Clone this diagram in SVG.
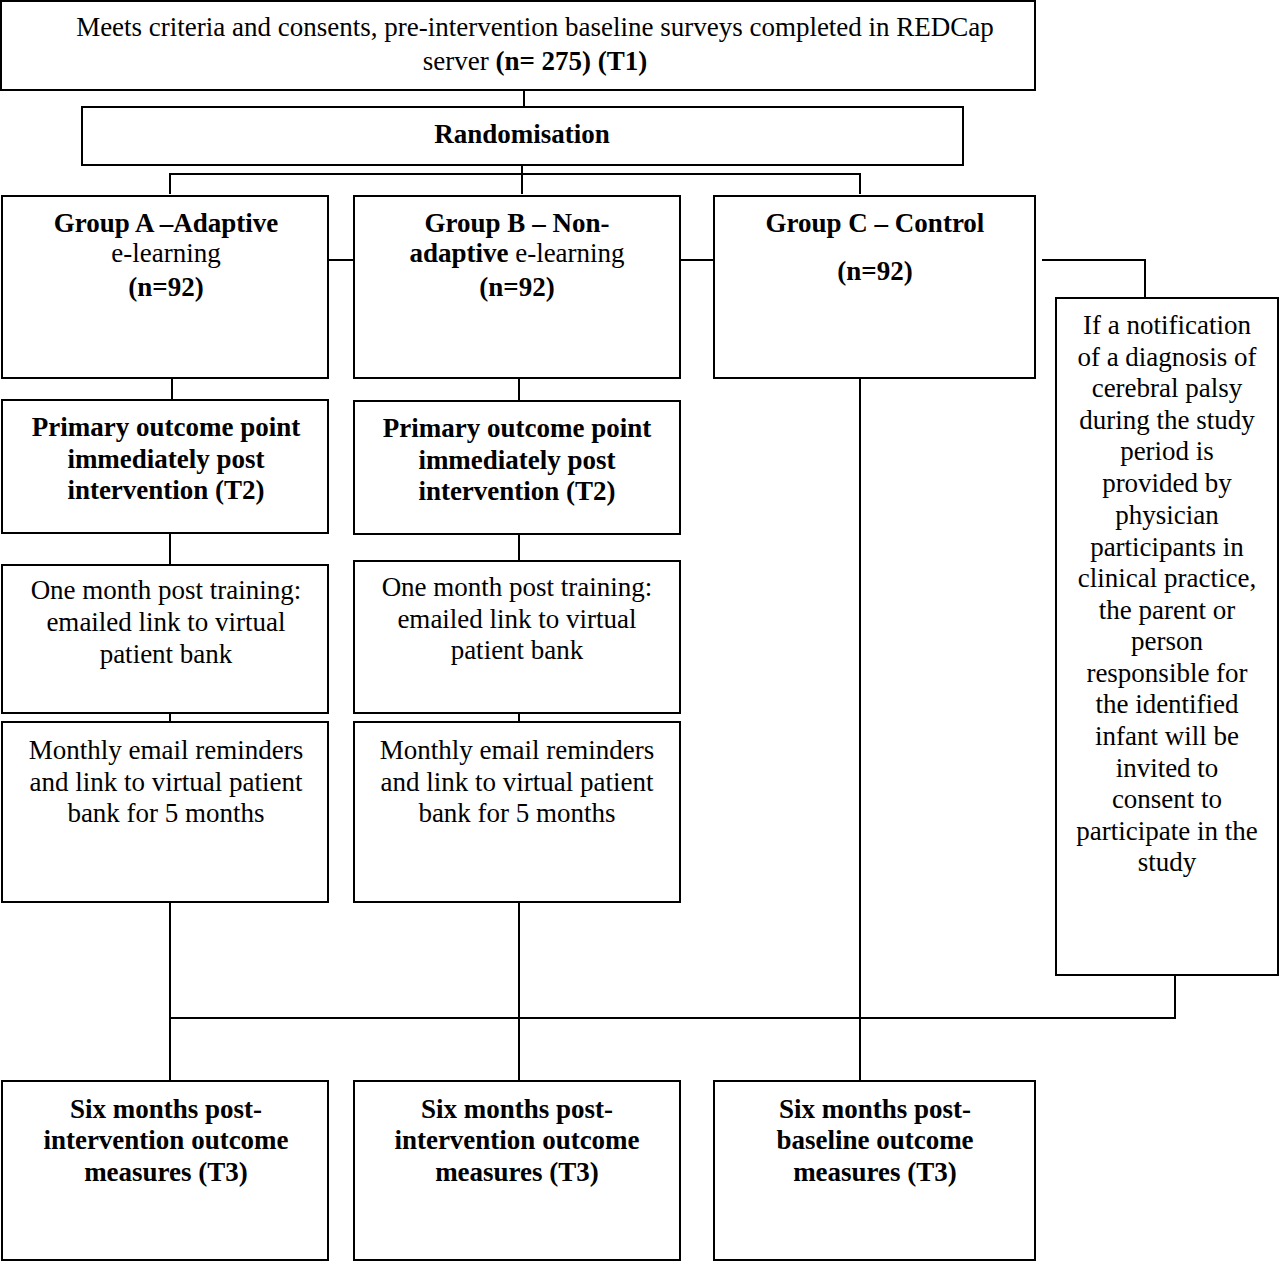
<svg xmlns="http://www.w3.org/2000/svg" width="1280" height="1263" viewBox="0 0 1280 1263">
<style>
.box{fill:#fff;stroke:#000;stroke-width:2}
.ln{stroke:#000;stroke-width:2;fill:none}
text{font-family:"Liberation Serif","Times New Roman",serif;font-size:27px;fill:#000;text-anchor:middle}
.b{font-weight:bold}
</style>
<rect width="1280" height="1263" fill="#fff"/>
<g id="connectors">
<path class="ln" d="M524 90V107"/>
<path class="ln" d="M170 194V174H860V194M522 166V194"/>
<path class="ln" d="M328 260H354M680 260H714"/>
<path class="ln" d="M1042 260H1145V298"/>
<path class="ln" d="M172 378V400M519 378V401"/>
<path class="ln" d="M170 533V565M519 534V561"/>
<path class="ln" d="M170 713V722M519 713V722"/>
<path class="ln" d="M170 902V1080M519 902V1080M860 378V1080"/>
<path class="ln" d="M170 1018H1176M1175 975V1018"/>
</g>
<g id="n_top"><rect class="box" x="1" y="1" width="1034" height="89"/>
<text x="535" y="36">Meets criteria and consents, pre-intervention baseline surveys completed in REDCap</text>
<text x="535" y="70">server <tspan class="b">(n= 275) (T1)</tspan></text></g>
<g id="n_rand"><rect class="box" x="82" y="107" width="881" height="58"/>
<text class="b" x="522" y="143">Randomisation</text></g>
<g id="n_groupA"><rect class="box" x="2" y="196" width="326" height="182"/>
<text class="b" x="166" y="232">Group A –Adaptive</text>
<text x="166" y="262">e-learning</text>
<text class="b" x="166" y="296">(n=92)</text></g>
<g id="n_groupB"><rect class="box" x="354" y="196" width="326" height="182"/>
<text class="b" x="517" y="232">Group B – Non-</text>
<text x="517" y="262"><tspan class="b">adaptive</tspan> e-learning</text>
<text class="b" x="517" y="296">(n=92)</text></g>
<g id="n_groupC"><rect class="box" x="714" y="196" width="321" height="182"/>
<text class="b" x="875" y="232">Group C – Control</text>
<text class="b" x="875" y="280">(n=92)</text></g>
<g id="n_note"><rect class="box" x="1056" y="298" width="222" height="677"/>
<text x="1167" y="334">If a notification</text>
<text x="1167" y="366">of a diagnosis of</text>
<text x="1167" y="397">cerebral palsy</text>
<text x="1167" y="429">during the study</text>
<text x="1167" y="460">period is</text>
<text x="1167" y="492">provided by</text>
<text x="1167" y="524">physician</text>
<text x="1167" y="556">participants in</text>
<text x="1167" y="587">clinical practice,</text>
<text x="1167" y="619">the parent or</text>
<text x="1167" y="650">person</text>
<text x="1167" y="682">responsible for</text>
<text x="1167" y="713">the identified</text>
<text x="1167" y="745">infant will be</text>
<text x="1167" y="777">invited to</text>
<text x="1167" y="808">consent to</text>
<text x="1167" y="840">participate in the</text>
<text x="1167" y="871">study</text></g>
<g id="n_primA"><rect class="box" x="2" y="400" width="326" height="133"/>
<text class="b" x="166" y="436">Primary outcome point</text>
<text class="b" x="166" y="468">immediately post</text>
<text class="b" x="166" y="499">intervention (T2)</text></g>
<g id="n_primB"><rect class="box" x="354" y="401" width="326" height="133"/>
<text class="b" x="517" y="437">Primary outcome point</text>
<text class="b" x="517" y="469">immediately post</text>
<text class="b" x="517" y="500">intervention (T2)</text></g>
<g id="n_monthA"><rect class="box" x="2" y="565" width="326" height="148"/>
<text x="166" y="599">One month post training:</text>
<text x="166" y="631">emailed link to virtual</text>
<text x="166" y="663">patient bank</text></g>
<g id="n_monthB"><rect class="box" x="354" y="561" width="326" height="152"/>
<text x="517" y="596">One month post training:</text>
<text x="517" y="628">emailed link to virtual</text>
<text x="517" y="659">patient bank</text></g>
<g id="n_remA"><rect class="box" x="2" y="722" width="326" height="180"/>
<text x="166" y="759">Monthly email reminders</text>
<text x="166" y="791">and link to virtual patient</text>
<text x="166" y="822">bank for 5 months</text></g>
<g id="n_remB"><rect class="box" x="354" y="722" width="326" height="180"/>
<text x="517" y="759">Monthly email reminders</text>
<text x="517" y="791">and link to virtual patient</text>
<text x="517" y="822">bank for 5 months</text></g>
<g id="n_t3A"><rect class="box" x="2" y="1081" width="326" height="179"/>
<text class="b" x="166" y="1118">Six months post-</text>
<text class="b" x="166" y="1149">intervention outcome</text>
<text class="b" x="166" y="1181">measures (T3)</text></g>
<g id="n_t3B"><rect class="box" x="354" y="1081" width="326" height="179"/>
<text class="b" x="517" y="1118">Six months post-</text>
<text class="b" x="517" y="1149">intervention outcome</text>
<text class="b" x="517" y="1181">measures (T3)</text></g>
<g id="n_t3C"><rect class="box" x="714" y="1081" width="321" height="179"/>
<text class="b" x="875" y="1118">Six months post-</text>
<text class="b" x="875" y="1149">baseline outcome</text>
<text class="b" x="875" y="1181">measures (T3)</text></g>
</svg>
